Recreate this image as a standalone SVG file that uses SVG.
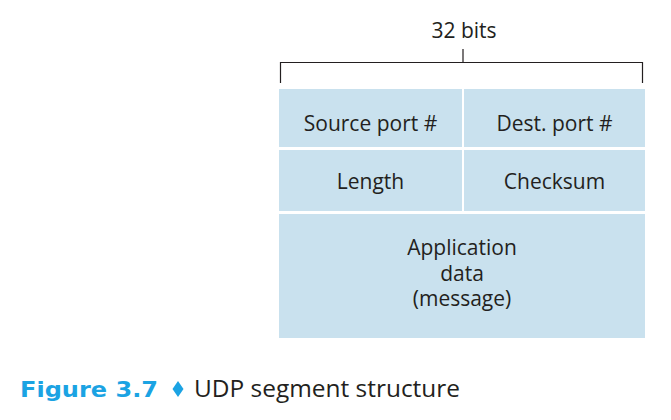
<svg xmlns="http://www.w3.org/2000/svg" width="671" height="420" viewBox="0 0 671 420">
<style>
.cell{fill:#c9e1ee;}
.lbl{font-family:"Open Sans","Noto Sans",sans-serif;font-size:21px;fill:#231f20;text-anchor:middle;}
.br{stroke:#231f20;stroke-width:1.2;fill:none;}
.cap1{font-family:"DejaVu Sans",Verdana,sans-serif;font-weight:bold;font-size:22px;fill:#1ba3e3;}
.cap2{font-family:"Open Sans","Noto Sans",sans-serif;font-size:23px;fill:#231f20;}
</style>
<rect width="671" height="420" fill="#ffffff"/>
<g id="bracket">
<path class="br" d="M280.5,83 V62.5 H642.5 V83 M463,49 V62.5"/>
<text class="lbl" x="464" y="38">32 bits</text>
</g>
<g id="source-port">
<rect class="cell" x="279" y="89" width="183" height="58"/>
<text class="lbl" x="370.5" y="131">Source port #</text>
</g>
<g id="dest-port">
<rect class="cell" x="464" y="89" width="181" height="58"/>
<text class="lbl" x="554.5" y="131">Dest. port #</text>
</g>
<g id="length">
<rect class="cell" x="279" y="150" width="183" height="61"/>
<text class="lbl" x="370.5" y="189">Length</text>
</g>
<g id="checksum">
<rect class="cell" x="464" y="150" width="181" height="61"/>
<text class="lbl" x="554.5" y="189">Checksum</text>
</g>
<g id="app-data">
<rect class="cell" x="279" y="214" width="366" height="124"/>
<text class="lbl" x="462" y="255">Application<tspan x="462" dy="25.5">data</tspan><tspan x="462" dy="25.5">(message)</tspan></text>
</g>
<g id="connectors"></g>
<g id="caption">
<text class="cap1" x="20" y="397" textLength="138" lengthAdjust="spacingAndGlyphs">Figure 3.7</text>
<path d="M178,381 L183.5,389 L178,397 L172.5,389 Z" fill="#1ba3e3"/>
<text class="cap2" x="194" y="397" textLength="266" lengthAdjust="spacingAndGlyphs">UDP segment structure</text>
</g>
</svg>
